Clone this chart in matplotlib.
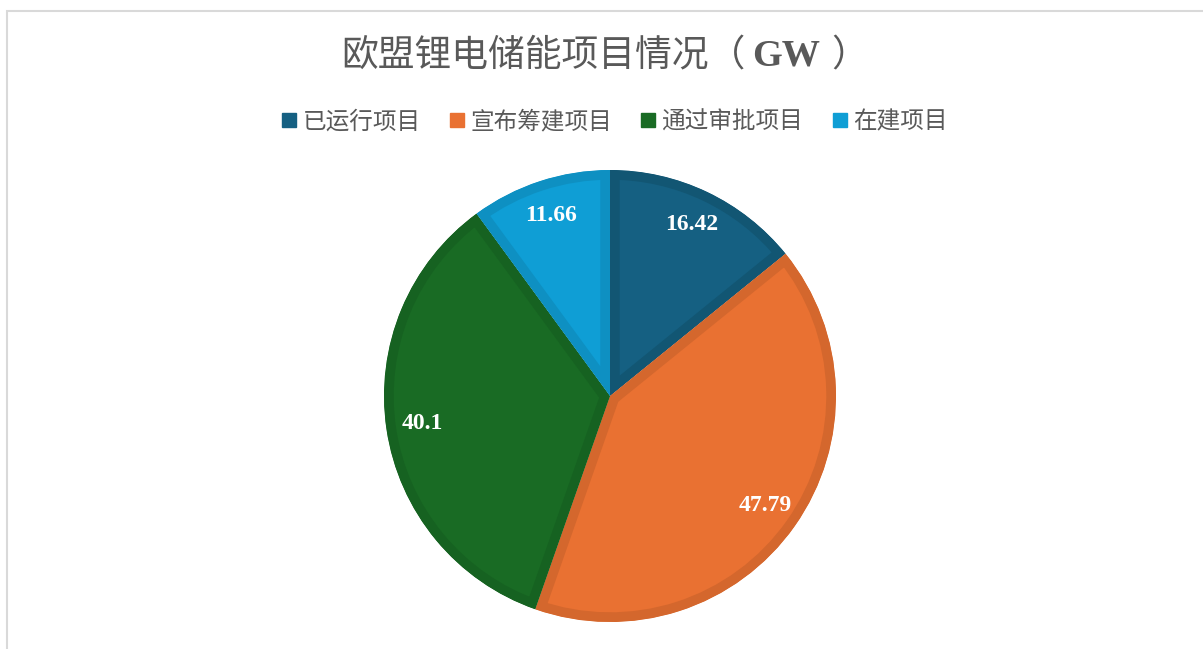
import matplotlib.pyplot as plt
import numpy as np
from matplotlib.patches import Rectangle
from matplotlib.lines import Line2D

plt.rcParams['font.family'] = ['Noto Sans CJK SC', 'DejaVu Sans']

# 数据
categories = ['已运行项目', '宣布筹建项目', '通过审批项目', '在建项目']
values = [16.42, 47.79, 40.1, 11.66]
labels = ['16.42', '47.79', '40.1', '11.66']
colors = ['#156082', '#E97132', '#196B24', '#0F9ED5']
edges = ['#125673', '#D4672D', '#166221', '#0E90C2']

W, H = 1203, 649
fig = plt.figure(figsize=(W / 100, H / 100), dpi=100)

# 外框（只见左、上边）
fig.patches.append(Rectangle((6.5 / W, -0.1), 1.2, 1 - 10.5 / H + 0.1,
                             transform=fig.transFigure, fill=False,
                             edgecolor='#d9d9d9', linewidth=1.5))

cx, cy, r = 610, H - 396, 226
ax = fig.add_axes([(cx - r) / W, (cy - r) / H, 2 * r / W, 2 * r / H])
wedges, _ = ax.pie(values, colors=colors, startangle=90, counterclock=False,
                   radius=1, wedgeprops=dict(linewidth=0))
for i, w in enumerate(wedges):
    w.set_edgecolor(edges[i])
    w.set_linewidth(14)
    w.set_clip_path(w)
    w.set_clip_on(True)
    ang = np.deg2rad((w.theta1 + w.theta2) / 2)
    ax.text(0.84 * np.cos(ang), 0.84 * np.sin(ang), labels[i], ha='center', va='center',
            color='white', fontsize=17, fontweight='bold', family='Liberation Serif')
ax.set_xlim(-1, 1)
ax.set_ylim(-1, 1)
ax.set_aspect('equal')
ax.axis('off')

# 标题：中文 + 粗体 GW
fig.text(341 / W, 1 - 56 / H, '欧盟锂电储能项目情况（', fontsize=26.5,
         color='#595959', ha='left', va='center')
fig.text(752 / W, 1 - 65 / H, 'GW', fontsize=27.5, fontweight='bold',
         family='Liberation Serif', color='#595959', ha='left', va='baseline')
fig.text(831 / W, 1 - 56 / H, '）', fontsize=26.5, color='#595959',
         ha='left', va='center')

# 图例
handles = [Line2D([], [], marker='s', linestyle='none', markersize=9.5,
                  markerfacecolor=c, markeredgecolor=c) for c in colors]
fig.legend(handles, categories, loc='center', bbox_to_anchor=(0.511, 1 - 122 / H),
           ncol=4, frameon=False, fontsize=17, labelcolor='#595959',
           handlelength=0.6, handletextpad=0.25, columnspacing=1.25)

fig.savefig('out.png', dpi=100, facecolor='white')
